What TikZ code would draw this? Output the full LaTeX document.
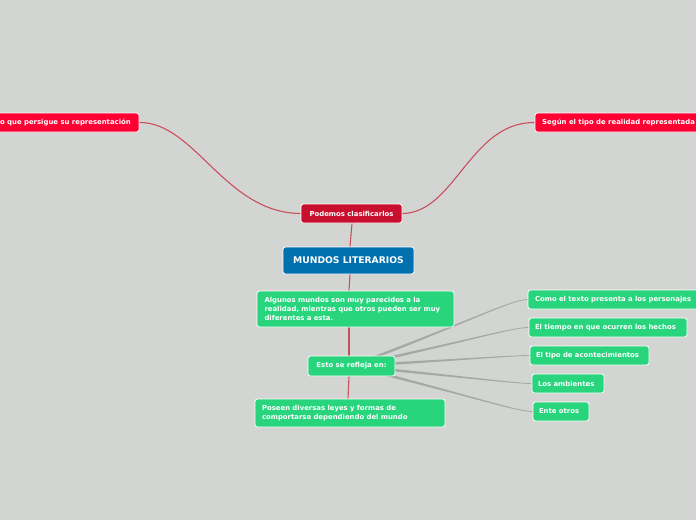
\documentclass[tikz,border=0pt]{standalone}
\usepackage{fontspec}
\setmainfont{DejaVu Sans}
\usetikzlibrary{calc,backgrounds}
\definecolor{bg}{RGB}{211,213,210}
\definecolor{redbright}{RGB}{255,0,51}
\definecolor{crim}{RGB}{200,16,46}
\definecolor{grn}{RGB}{40,213,125}
\definecolor{blu}{RGB}{0,112,175}
\definecolor{redline}{RGB}{200,80,94}
\definecolor{grayline}{RGB}{166,168,166}
\tikzset{
  box/.style={draw=white, line width=0.8pt, rounded corners=2.5pt, text=white,
    font=\fontsize{6.9}{9}\selectfont\bfseries, inner sep=0pt, align=left},
  redbox/.style={box, fill=redbright},
  crimbox/.style={box, fill=crim},
  grnbox/.style={box, fill=grn},
  blubox/.style={box, fill=blu, font=\fontsize{9.2}{10}\selectfont\bfseries},
  lbl/.style={text=white, font=\fontsize{6.9}{9}\selectfont\bfseries, inner sep=0pt},
  redcon/.style={draw=redline, line width=1.1pt},
  graycon/.style={fill=grayline},
}
\begin{document}
\begin{tikzpicture}[x=1pt,y=-1pt]
\useasboundingbox (0,0) rectangle (696,520);
% nodes
\node[redbox, minimum width=160, minimum height=19] (lft) at (59,122.5) {};
\node[lbl, anchor=east] (lftt) at (131,122.5) {o que persigue su representación};
\node[redbox, minimum width=170, minimum height=19] (rgt) at (620,122.5) {};
\node[lbl, anchor=west] (rgtt) at (542,122.5) {Según el tipo de realidad representada};
\node[crimbox, minimum width=101, minimum height=19, align=center] (pod) at (351.5,213.5) {Podemos clasificarlos};
\node[blubox, minimum width=131, minimum height=27, align=center] (mun) at (348.5,260.5) {MUNDOS LITERARIOS};
\node[grnbox, minimum width=197, minimum height=36, text width=182] (alg) at (355.5,309) {Algunos mundos son muy parecidos a la\\realidad, mientras que otros pueden ser muy\\diferentes a esta.};
\node[grnbox, minimum width=87, minimum height=20, align=center] (est) at (351.5,366) {Esto se refleja en:};
\node[grnbox, minimum width=190, minimum height=28, text width=176] (pos) at (350,413) {Poseen diversas leyes y formas de\\comportarse dependiendo del mundo};
\node[grnbox, minimum width=176, minimum height=19, text width=162] (c1) at (616,299.5) {Como el texto presenta a los personajes};
\node[grnbox, minimum width=158, minimum height=19, text width=146] (c2) at (608,327.5) {El tiempo en que ocurren los hechos};
\node[grnbox, minimum width=119, minimum height=19, text width=107] (c3) at (589.5,355.5) {El tipo de acontecimientos};
\node[grnbox, minimum width=72, minimum height=19, text width=60] (c4) at (568,383.5) {Los ambientes};
\node[grnbox, minimum width=56, minimum height=19, text width=44] (c5) at (561,411.5) {Ente otros};
\coordinate (x352) at (352,0);
\coordinate (x350) at (350,0);
\coordinate (x349) at (349,0);
\coordinate (x348) at (348,0);
% connectors
\begin{pgfonlayer}{background}
\fill[bg] (0,0) rectangle (696,520);
\draw[redcon] (lft.east) .. controls (195,122) and (225,213) .. (pod.west);
\draw[redcon] (pod.east) .. controls (455,213) and (470,122) .. (rgt.west);
\draw[redcon] (pod.south -| x352) -- (mun.north -| x350);
\draw[redcon] (mun.south -| x350) -- (alg.north -| x349);
\draw[redcon] (alg.south -| x349) -- (est.north -| x349);
\draw[redcon] (est.south -| x349) -- (pos.north -| x348);
\coordinate (S) at (est.center);
\foreach \t in {c1,c2,c3,c4,c5}{
  \coordinate (T) at (\t.west);
  \coordinate (C1) at ($(S)!0.7!(T)$);
  \coordinate (C2) at ($(T)+(-16,0)$);
  \fill[graycon] ($(S)+(0,-1.6)$) .. controls ($(C1)+(0,-0.75)$) and ($(C2)+(0,-0.4)$) .. ($(T)+(0,-0.4)$)
     -- ($(T)+(0,0.4)$) .. controls ($(C2)+(0,0.4)$) and ($(C1)+(0,0.75)$) .. ($(S)+(0,1.6)$) -- cycle;
}
\end{pgfonlayer}
\end{tikzpicture}
\end{document}
